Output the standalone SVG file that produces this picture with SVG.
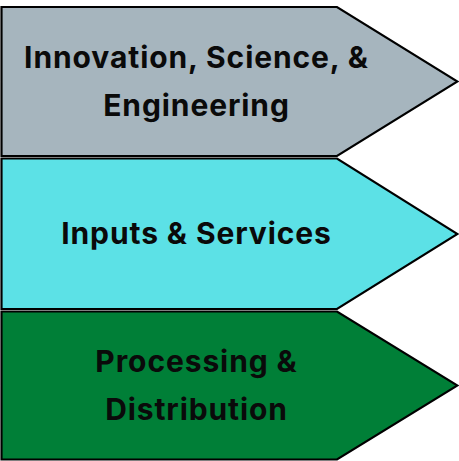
<svg xmlns="http://www.w3.org/2000/svg" width="459" height="461" viewBox="0 0 459 461">
<style>
.s{stroke:#000;stroke-width:2.2;stroke-linejoin:miter}
.t{font-family:Inter,"Noto Sans",sans-serif;font-weight:700;font-size:30px;letter-spacing:0.9px;fill:#0a0a0a;text-anchor:middle}
</style>
<rect width="459" height="461" fill="#fff"/>
<g id="innovation">
<polygon class="s" fill="#A6B5BE" points="1.5,7 337,7 457.5,81.5 337,156 1.5,156"/>
<text class="t" x="196.5" y="68">Innovation, Science, &amp;</text>
<text class="t" x="196.5" y="116">Engineering</text>
</g>
<g id="inputs">
<polygon class="s" fill="#5CE1E6" points="1.5,158.5 337,158.5 457.5,234 337,309 1.5,309"/>
<text class="t" x="196.5" y="244">Inputs &amp; Services</text>
</g>
<g id="processing">
<polygon class="s" fill="#007F37" points="1.5,311.5 337,311.5 457.5,385.5 337,459.5 1.5,459.5"/>
<text class="t" x="196.5" y="372">Processing &amp;</text>
<text class="t" x="196.5" y="420">Distribution</text>
</g>
<g id="connectors"/>
</svg>
